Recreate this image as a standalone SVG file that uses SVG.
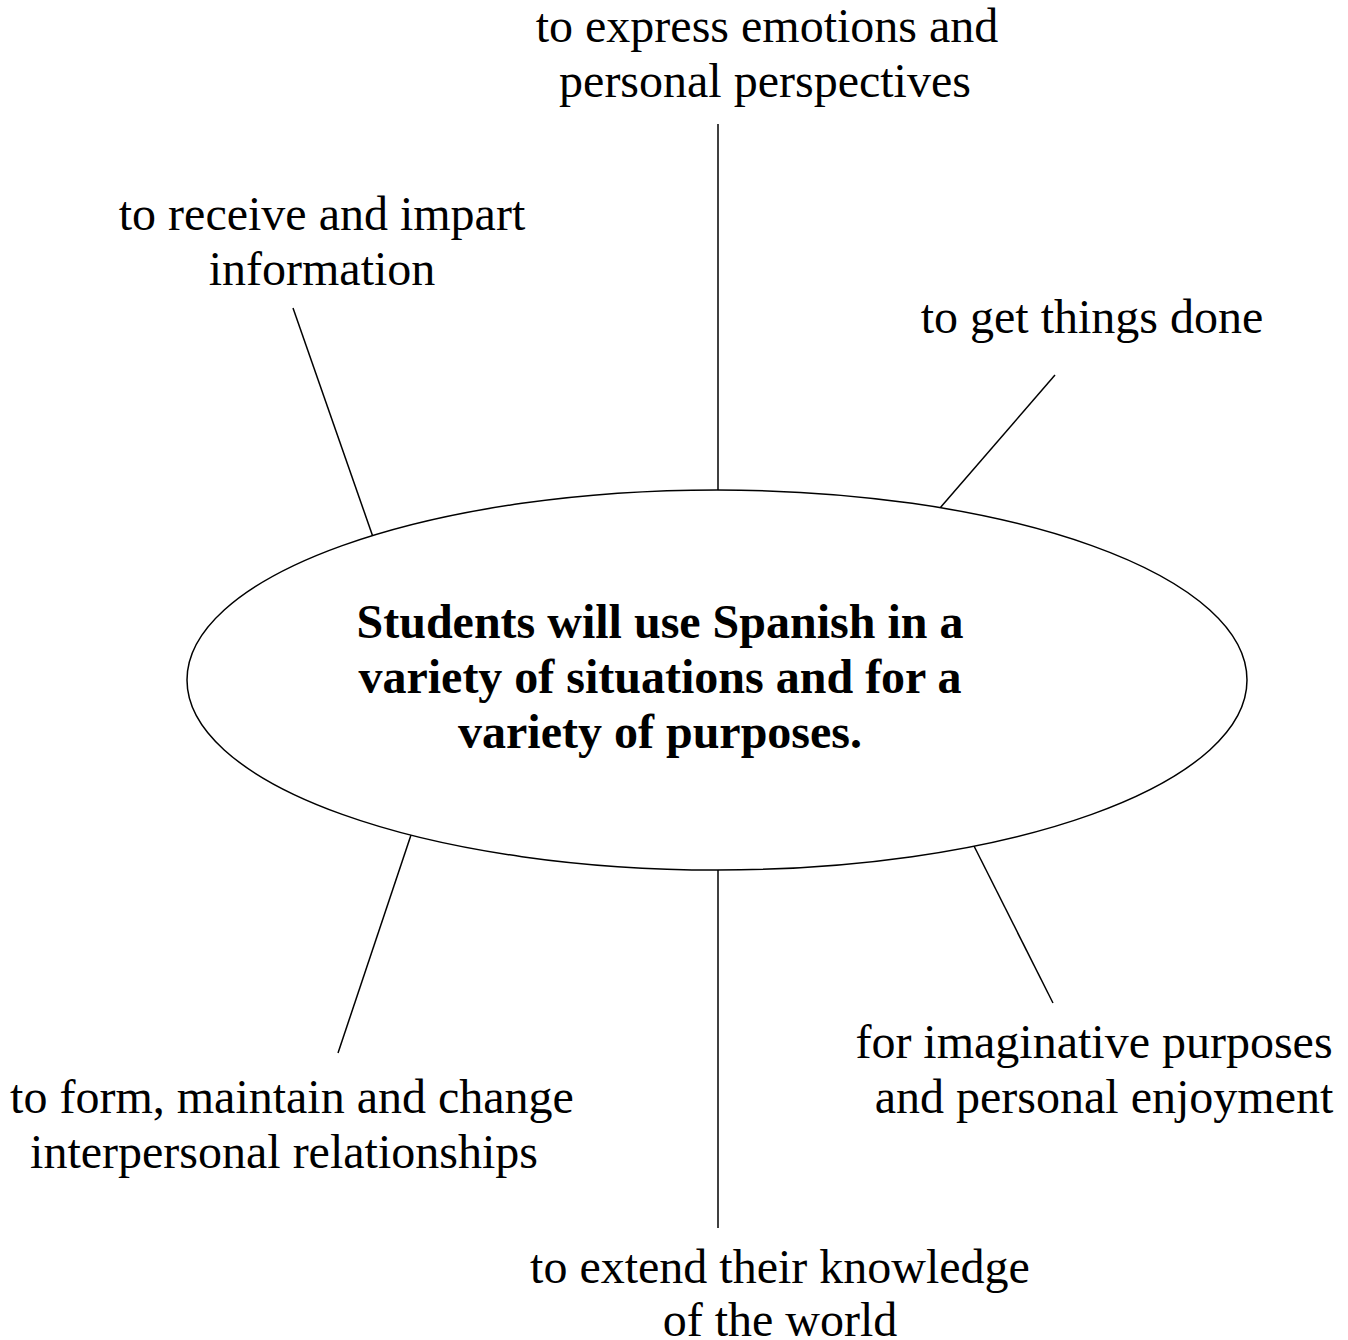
<svg xmlns="http://www.w3.org/2000/svg" width="1348" height="1340" viewBox="0 0 1348 1340">
<style>
text{font-family:"Liberation Serif","Times New Roman",serif;font-size:48px;fill:#000;text-anchor:middle}
.b{font-weight:bold}
line{stroke:#000;stroke-width:1.5}
</style>
<rect width="1348" height="1340" fill="#fff"/>
<g id="connectors">
<line x1="718" y1="124" x2="718" y2="490"/>
<line x1="293" y1="308" x2="373" y2="537"/>
<line x1="1055" y1="375" x2="940" y2="508"/>
<line x1="411" y1="835" x2="338" y2="1053"/>
<line x1="718" y1="870" x2="718" y2="1228"/>
<line x1="974" y1="846" x2="1053" y2="1003"/>
</g>
<g id="center">
<ellipse cx="717" cy="680" rx="530" ry="190" fill="#fff" stroke="#000" stroke-width="1.5"/>
<text class="b" x="660" y="638">Students will use Spanish in a</text>
<text class="b" x="660" y="693">variety of situations and for a</text>
<text class="b" x="660" y="748">variety of purposes.</text>
</g>
<g id="n-express"><text x="767" y="42">to express emotions and</text><text x="765" y="97">personal perspectives</text></g>
<g id="n-receive"><text x="322" y="230">to receive and impart</text><text x="322" y="285">information</text></g>
<g id="n-done"><text x="1092" y="333">to get things done</text></g>
<g id="n-imaginative"><text x="1094" y="1058">for imaginative purposes</text><text x="1104" y="1113">and personal enjoyment</text></g>
<g id="n-form"><text x="292" y="1113">to form, maintain and change</text><text x="284" y="1168">interpersonal relationships</text></g>
<g id="n-extend"><text x="780" y="1283">to extend their knowledge</text><text x="780" y="1336">of the world</text></g>
</svg>
